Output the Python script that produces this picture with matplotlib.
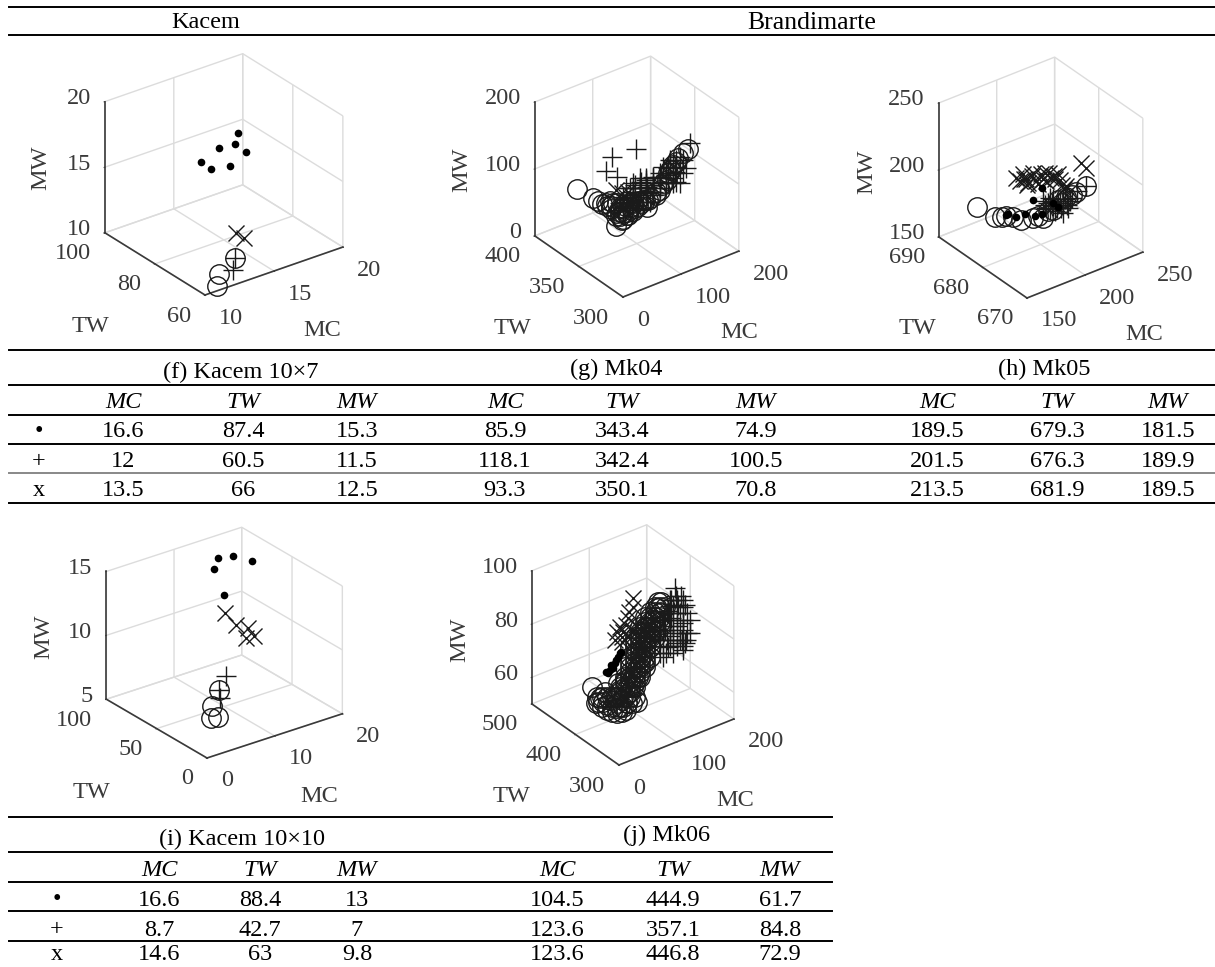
import matplotlib
matplotlib.use('Agg')
import matplotlib.pyplot as plt
from matplotlib.lines import Line2D
from mpl_toolkits.mplot3d import proj3d

plt.rcParams['font.family'] = ['Liberation Serif', 'DejaVu Serif']

W, H = 1215, 967

# Kacem 10x7
k7_dot_mc = [14.4, 14.3, 15.4, 16.3, 17.3, 18.3, 17.2]
k7_dot_tw = [85.8, 81.4, 79.6, 89.0, 88.3, 92.4, 83.4]
k7_dot_mw = [15.5, 15.5, 15.5, 15.5, 15.5, 15.5, 15.5]
k7_plus_mc = [12.7, 12.2]
k7_plus_tw = [62.7, 61.1]
k7_plus_mw = [11.5, 11.0]
k7_x_mc = [13.6, 13.6]
k7_x_tw = [67.5, 64.3]
k7_x_mw = [12.5, 12.5]
k7_o_mc = [12.7, 11.4, 11.0]
k7_o_tw = [62.7, 62.3, 60.9]
k7_o_mw = [11.5, 10.8, 10.2]

# Kacem 10x10
k10_dot_mc = [14.8, 16.6, 17.6, 12.7, 14.6]
k10_dot_tw = [88.9, 85.4, 73.3, 78.0, 81.0]
k10_dot_mw = [14.0, 14.0, 14.0, 14.0, 11.5]
k10_plus_mc = [10.9, 8.0, 6.8]
k10_plus_tw = [54.2, 41.4, 32.4]
k10_plus_mw = [7.0, 7.0, 7.0]
k10_x_mc = [15.3, 14.4, 15.1, 13.3, 14.4]
k10_x_tw = [85.4, 68.4, 60.5, 50.4, 49.7]
k10_x_mw = [9.8, 9.8, 9.8, 9.8, 9.8]
k10_o_mc = [8.0, 6.8, 4.8, 5.6]
k10_o_tw = [41.4, 40.7, 28.0, 26.6]
k10_o_mw = [7.0, 6.0, 6.0, 6.0]

# Mk04
mk4_o_mc = [57.0, 59.7, 60.4, 61.5, 62.8, 63.1, 63.2, 60.5, 59.9, 72.2, 90.2, 105.5, 122.5, 140.3, 160.8, 182.0,
            158.0, 174.1, 187.4, 199.3, 73.2, 138.3, 75.8, 89.1, 104.3, 77.3, 78.1, 73.2, 68.4, 114.3, 189.2, 166.9,
            74.2, 73.7, 81.8, 92.6, 70.5, 83.1, 96.5, 112.6, 118.1, 134.1, 146.7, 156.5, 170.0, 191.2, 57.1, 56.8,
            67.1, 66.9, 96.3, 69.5]
mk4_o_tw = [389.5, 373.7, 367.9, 363.7, 359.9, 354.5, 348.8, 343.3, 339.2, 341.6, 345.8, 348.3, 350.0, 354.2, 360.2, 368.6,
            347.0, 351.9, 355.1, 357.2, 356.5, 363.1, 345.7, 348.9, 351.4, 350.7, 358.6, 363.1, 348.4, 350.4, 371.3, 349.0,
            360.0, 352.0, 351.7, 353.1, 342.3, 343.0, 346.2, 351.0, 348.9, 351.0, 354.6, 358.1, 361.2, 370.6, 339.1, 344.7,
            357.2, 362.7, 351.7, 345.4]
mk4_o_mw = [60, 60, 60, 60, 60, 60, 60, 60, 60, 60, 60, 60, 60, 60, 60, 60,
            100, 100, 100, 100, 30, 30, 60, 60, 60, 60, 60, 60, 60, 60, 60, 100,
            60, 60, 60, 60, 60, 60, 60, 60, 60, 60, 60, 60, 60, 60, 60, 60,
            60, 60, 60, 60]
mk4_plus_mc = [142.7, 104.3, 74.7, 78.5, 190.0, 167.5, 155.8, 73.7, 84.4, 71.9, 96.9, 84.6, 105.1, 94.5, 117.5, 104.4,
               124.9, 114.5, 134.9, 126.1, 149.2, 135.3, 160.7, 147.3, 178.5, 53.0, 46.3, 58.8, 31.9, 71.3, 39.3, 56.4,
               84.1, 93.8, 38.9,
               100.3, 107.7, 115.0, 122.3, 129.7, 137.0, 85.0, 92.3, 99.7, 114.3, 121.7, 129.0, 136.4,
               69.7, 77.1, 84.4, 91.8, 99.1, 106.4, 59.2, 66.6, 73.9, 81.3, 88.6, 45.0, 52.3, 59.7, 67.0, 74.3,
               34.5, 41.8, 49.2, 130.1, 137.5, 144.8, 144.4, 151.8, 159.1, 162.3, 169.6, 177.0]
mk4_plus_tw = [378.5, 380.9, 368.5, 357.8, 349.2, 338.1, 334.2, 340.6, 341.9, 335.6, 342.7, 336.5, 342.4, 335.4, 343.1, 334.4,
               340.3, 333.4, 339.3, 331.7, 339.3, 328.2, 348.8, 345.7, 352.9, 334.6, 326.3, 327.0, 320.8, 327.7, 318.0, 319.8,
               328.5, 327.4, 329.0,
               346.9, 344.2, 341.4, 338.6, 335.9, 333.1, 344.4, 341.6, 338.9, 333.3, 330.6, 327.8, 325.0,
               341.9, 339.2, 336.4, 333.7, 330.9, 328.1, 335.0, 332.3, 329.5, 326.8, 324.0, 329.4, 326.7, 323.9, 321.1, 318.4,
               322.4, 319.7, 316.9, 343.8, 341.1, 338.3, 349.4, 346.6, 343.8, 353.6, 350.8, 348.1]
mk4_plus_mw = [100, 100, 100, 100, 120, 100, 100, 100, 100, 100, 100, 100, 100, 100, 100, 100,
               100, 100, 100, 100, 100, 100, 100, 100, 100, 100, 100, 100, 100, 100, 100, 100,
               100, 100, 100,
               100, 100, 100, 100, 100, 100, 100, 100, 100, 100, 100, 100, 100,
               100, 100, 100, 100, 100, 100, 100, 100, 100, 100, 100, 100, 100, 100, 100, 100,
               100, 100, 100, 100, 100, 100, 100, 100, 100, 100, 100, 100]
mk4_x_mc = [88.0, 88.3, 98.0]
mk4_x_tw = [365.2, 359.6, 358.6]
mk4_x_mw = [70, 70, 70]

# Mk05
mk5_o_mc = [173.6, 175.6, 179.8, 185.3, 187.4, 195.5, 200.9, 213.0, 223.7, 230.9, 240.3, 249.4, 199.5, 182.7, 222.9, 209.0, 234.9]
mk5_o_tw = [687.5, 683.9, 683.4, 682.4, 681.2, 680.6, 679.8, 680.6, 682.3, 682.3, 682.5, 682.8, 680.5, 683.3, 681.3, 680.7, 682.2]
mk5_o_mw = [170, 170, 170, 170, 170, 170, 170, 170, 170, 170, 170, 170, 170, 170, 170, 170, 170]
mk5_x_mc = [196.3, 203.4, 199.5, 206.6, 205.4, 213.5, 210.9, 219.3, 216.8, 222.6, 216.5, 197.2, 200.3, 210.2, 210.3, 216.3,
            244.6, 242.9, 214.3, 201.1, 197.3, 203.7, 216.6, 218.6, 219.5, 217.9, 215.8]
mk5_x_tw = [683.8, 684.9, 682.8, 683.8, 682.4, 683.4, 681.6, 683.1, 681.3, 682.0, 679.6, 684.8, 683.8, 684.5, 682.3, 681.9,
            682.5, 681.1, 678.4, 683.7, 682.5, 681.6, 683.4, 682.0, 680.8, 678.9, 677.5]
mk5_x_mw = [190, 190, 190, 190, 190, 190, 190, 190, 190, 190, 190, 190, 190, 190, 190, 190,
            190, 190, 190, 190, 190, 190, 190, 190, 190, 190, 190]
mk5_plus_mc = [194.7, 200.0, 200.2, 194.7, 198.0, 203.4, 206.4, 207.9, 199.5, 193.2, 195.3, 228.5, 219.5, 195.0,
               191.5, 196.4, 191.7, 202.3, 201.6, 211.4, 189.7, 202.9, 190.2]
mk5_plus_tw = [676.9, 677.2, 676.1, 675.8, 674.8, 675.0, 676.3, 675.4, 677.8, 677.7, 675.2, 677.3, 677.0, 673.6,
               676.8, 676.6, 674.6, 676.3, 674.2, 676.0, 676.1, 675.7, 675.4]
mk5_plus_mw = [190, 190, 190, 190, 190, 190, 190, 190, 190, 190, 190, 190, 190, 190,
               190, 190, 190, 190, 190, 190, 190, 190, 190]
mk5_dot_mc = [174.5, 176.5, 183.5, 187.6, 193.0, 198.8, 213.2, 207.7, 207.8, 172.9]
mk5_dot_tw = [680.7, 679.5, 679.3, 678.1, 677.8, 681.5, 683.3, 679.2, 678.1, 680.7]
mk5_dot_mw = [180, 180, 180, 180, 180, 180, 180, 180, 180, 180]

# Mk06
mk6_o_mc = [72.4, 63.3, 61.6, 56.1, 60.1, 51.9, 63.0, 66.0, 72.2, 98.6, 91.6, 112.9, 134.2, 155.6, 175.1, 194.6,
            151.0, 170.6, 190.1, 163.8, 179.1, 175.3,
            42.3, 56.5, 77.8, 104.4, 133.0, 159.5, 186.1, 76.4, 97.8, 124.5, 158.1, 191.9, 60.5, 109.9, 131.2, 165.1, 181.2,
            141.0, 158.9, 75.9, 71.6, 107.2, 84.9,
            40.5, 51.5, 57.0, 62.5, 61.8, 67.3, 72.8, 78.3, 83.1, 88.6, 94.1, 99.6, 98.9, 115.4, 120.9,
            120.2, 125.7, 136.7, 142.2, 141.5, 147.0, 152.5, 158.0, 136.0, 157.3, 162.8, 168.3, 173.8, 179.3,
            53.9, 64.9, 75.2, 80.7, 86.2, 96.5, 102.0, 107.5, 112.3, 117.8, 123.3, 128.8, 133.6, 139.1, 144.6,
            149.4, 154.9, 160.4, 165.9, 170.7, 176.2, 181.7, 187.2,
            115.6, 121.1, 126.6, 132.1, 137.6, 136.9, 142.4, 147.9, 153.4, 129.0, 134.5, 140.0, 145.5,
            150.3, 155.8, 161.3, 163.7, 169.2, 174.7,
            62.3, 67.8, 73.3, 78.8, 84.3, 51.8, 52.2, 55.1, 58.0, 66.1, 74.2, 84.8, 90.3, 73.8, 84.5, 79.4]
mk6_o_tw = [458.5, 427.4, 417.5, 421.7, 407.8, 408.4, 400.1, 392.5, 393.2, 389.6, 411.2, 427.9, 444.7, 461.4, 479.4, 497.5,
            432.3, 450.4, 468.5, 428.6, 438.6, 441.5,
            361.2, 372.5, 389.2, 412.7, 435.1, 458.7, 482.4, 368.3, 385.0, 408.7, 437.8, 467.1, 358.6, 408.5, 425.3, 454.6, 464.4,
            407.5, 415.9, 390.4, 415.4, 443.4, 394.6,
            362.9, 354.5, 350.3, 346.1, 379.5, 375.3, 371.1, 366.9, 396.1, 391.9, 387.7, 383.5, 416.9, 404.3, 400.1,
            433.5, 429.3, 420.9, 416.7, 450.1, 445.9, 441.7, 437.5, 454.3, 470.9, 466.7, 462.5, 458.3, 454.1,
            369.1, 360.7, 385.7, 381.5, 377.3, 402.3, 398.1, 393.9, 423.1, 418.9, 414.7, 410.5, 439.7, 435.5, 431.3,
            460.5, 456.3, 452.1, 447.9, 477.1, 472.9, 468.7, 464.5,
            404.2, 400.0, 395.8, 391.6, 387.4, 420.8, 416.6, 412.4, 408.2, 410.4, 406.2, 402.0, 397.8,
            427.0, 422.8, 418.6, 433.2, 429.0, 424.8,
            433.5, 429.3, 425.1, 420.9, 416.7, 420.0, 397.4, 389.7, 382.0, 381.3, 380.6, 394.4, 390.2, 402.8, 405.6, 436.9]
mk6_o_mw = [55, 55, 55, 55, 55, 55, 55, 55, 55, 55, 55, 55, 55, 55, 55, 55,
            70, 70, 70, 80, 80, 80,
            65, 65, 65, 65, 65, 65, 65, 65, 65, 65, 65, 65, 65, 65, 65, 65, 65,
            80, 80, 55, 55, 55, 55,
            65, 65, 65, 65, 65, 65, 65, 65, 65, 65, 65, 65, 65, 65, 65,
            65, 65, 65, 65, 65, 65, 65, 65, 65, 65, 65, 65, 65, 65,
            65, 65, 65, 65, 65, 65, 65, 65, 65, 65, 65, 65, 65, 65, 65,
            65, 65, 65, 65, 65, 65, 65, 65,
            80, 80, 80, 80, 80, 80, 80, 80, 80, 80, 80, 80, 80,
            80, 80, 80, 80, 80, 80,
            55, 55, 55, 55, 55, 55, 55, 55, 55, 55, 55, 55, 55, 55, 55, 55]
mk6_plus_mc = [194.2, 182.8, 171.4, 163.2, 160.2, 143.1, 148.1, 135.4, 136.0, 128.6, 121.2, 118.4, 109.2, 94.5, 94.0, 126.8,
               112.2, 117.2, 149.8, 188.3, 178.9, 139.7, 172.0, 131.6, 119.9,
               170.3, 177.6, 184.9, 159.7, 167.0, 174.3, 145.5, 152.8, 167.5, 131.3, 138.7, 146.0, 153.3, 160.7,
               115.4, 122.8, 137.4, 96.0, 103.3, 110.6, 118.0, 125.3, 89.1, 96.5, 103.8, 111.1, 95.9, 103.2, 110.5]
mk6_plus_tw = [428.0, 409.0, 390.4, 391.0, 371.7, 368.1, 348.0, 346.4, 324.3, 329.9, 335.5, 304.8, 311.7, 311.6, 322.5, 319.8,
               331.1, 349.3, 384.7, 404.8, 384.8, 321.5, 406.3, 349.3, 314.4,
               407.4, 401.8, 396.2, 393.6, 388.0, 382.4, 382.5, 376.9, 365.7, 371.5, 365.9, 360.3, 354.7, 349.1,
               350.7, 345.1, 333.9, 332.7, 327.1, 321.5, 315.9, 310.3, 316.0, 310.4, 304.8, 300.2, 332.8, 327.2, 321.6]
mk6_plus_mw = [85, 85, 85, 85, 85, 85, 85, 85, 85, 85, 85, 85, 85, 85, 80, 80,
               85, 85, 85, 85, 85, 85, 85, 85, 85,
               85, 85, 85, 85, 85, 85, 85, 85, 85, 85, 85, 85, 85, 85,
               85, 85, 85, 85, 85, 85, 85, 85, 85, 85, 85, 85, 80, 80, 80]
mk6_x_mc = [174.0, 148.5, 160.8, 114.5, 124.6, 124.0, 88.0, 100.6, 107.9, 103.0, 110.3, 136.9, 92.7, 135.7]
mk6_x_tw = [497.3, 472.6, 479.8, 449.1, 447.1, 431.1, 425.4, 426.7, 421.2, 441.4, 435.9, 459.7, 416.3, 438.7]
mk6_x_mw = [75, 75, 75, 75, 75, 75, 75, 75, 75, 75, 75, 75, 75, 75]
mk6_dot_mc = [91.7, 98.0, 107.8, 104.4, 121.3, 128.2, 135.5, 139.9, 91.0, 114.2]
mk6_dot_tw = [449.6, 450.3, 459.4, 451.2, 465.6, 471.2, 476.9, 478.7, 444.8, 460.1]
mk6_dot_mw = [60, 60, 60, 60, 60, 60, 60, 60, 60, 60]

# table values, rows are dot, plus, x
col_names = ['MC', 'TW', 'MW']
row_names = ['•', '+', 'x']
k7_table = [['16.6', '87.4', '15.3'], ['12', '60.5', '11.5'], ['13.5', '66', '12.5']]
mk4_table = [['85.9', '343.4', '74.9'], ['118.1', '342.4', '100.5'], ['93.3', '350.1', '70.8']]
mk5_table = [['189.5', '679.3', '181.5'], ['201.5', '676.3', '189.9'], ['213.5', '681.9', '189.5']]
k10_table = [['16.6', '88.4', '13'], ['8.7', '42.7', '7'], ['14.6', '63', '9.8']]
mk6_table = [['104.5', '444.9', '61.7'], ['123.6', '357.1', '84.8'], ['123.6', '446.8', '72.9']]

fig = plt.figure(figsize=(W / 100, H / 100), dpi=100)
INK = '#3a3a3a'


def page_text(x, y, s, **kw):
    kw.setdefault('ha', 'center')
    kw.setdefault('va', 'center')
    kw.setdefault('fontsize', 17.5)
    # +2: va center sits a bit high for digits
    fig.text(x / W, 1 - (y + 2) / H, s, **kw)


def hline(y, x0, x1, color='black'):
    fig.add_artist(Line2D([x0 / W, x1 / W], [1 - y / H, 1 - y / H], color=color, lw=1.4,
                          transform=fig.transFigure))


def to_px(ax, x, y, z):
    px, py, _ = proj3d.proj_transform(x, y, z, ax.get_proj())
    return ax.transData.transform((px, py))


def draw_panel(origin, span, view, box, lims, ticks, series, label_pos):
    xlim, ylim, zlim = lims
    ax = fig.add_axes([0.1, 0.1, 300 / W, 300 / H], projection='3d', proj_type='ortho')
    ax.patch.set_visible(False)
    ax.view_init(elev=view[0], azim=view[1])
    ax.set_box_aspect(box)
    ax.set_xlim(*xlim, view_margin=0)
    ax.set_ylim(*ylim, view_margin=0)
    ax.set_zlim(*zlim, view_margin=0)
    ax.set_xticks(ticks[0])
    ax.set_yticks(ticks[1])
    ax.set_zticks(ticks[2])
    ax.xaxis.set_ticklabels([])
    ax.yaxis.set_ticklabels([])
    ax.zaxis.set_ticklabels([])

    for axis in (ax.xaxis, ax.yaxis, ax.zaxis):
        axis.set_pane_color((1, 1, 1, 0))
        axis.pane.set_edgecolor('#d4d4d4')
        axis.line.set_color(INK)
        axis.line.set_linewidth(1.2)
        axis._axinfo['grid'].update(color='#dcdcdc', linewidth=1.0)
        axis._axinfo['tick'].update(inward_factor=0.06, outward_factor=0.0)
    ax.tick_params(color=INK, width=1)
    ax.zaxis.set_ticks_position('upper')

    for mc, tw, mw, style in series:
        ax.plot(mc, tw, mw, linestyle='none', **style)

    # scale the square axes so the box spans the wanted pixels, then move it over the origin
    a = to_px(ax, xlim[1], ylim[0], zlim[0])
    b = to_px(ax, xlim[0], ylim[1], zlim[0])
    side = 300 * span / (a[0] - b[0])
    ax.set_position([0.1, 0.1, side / W, side / H])
    o = to_px(ax, xlim[0], ylim[0], zlim[0])
    tx = origin[0] - o[0]
    ty = (H - origin[1]) - o[1]
    ax.set_position([0.1 + tx / W, 0.1 + ty / H, side / W, side / H])

    for t in ticks[0]:
        p = to_px(ax, t, ylim[0], zlim[0])
        page_text(p[0] + 14, H - p[1] + 21, str(t), ha='left', color=INK)
    for t in ticks[1]:
        p = to_px(ax, xlim[0], t, zlim[0])
        page_text(p[0] - 14, H - p[1] + 19, str(t), ha='right', color=INK)
    for t in ticks[2]:
        p = to_px(ax, xlim[0], ylim[1], t)
        page_text(p[0] - 14, H - p[1] - 5, str(t), ha='right', color=INK)

    page_text(*label_pos[0], 'MC', color=INK)
    page_text(*label_pos[1], 'TW', color=INK)
    page_text(*label_pos[2], 'MW', color=INK, rotation=90)
    return ax


dot = dict(marker='o', markersize=5.5, color='black', markeredgewidth=0)
plus = dict(marker='+', markersize=14, color='#1a1a1a', markeredgewidth=1.0)
cross = dict(marker='x', markersize=11, color='#1a1a1a', markeredgewidth=1.0)
ring = dict(marker='o', markersize=14, markerfacecolor='none', markeredgecolor='#1a1a1a', markeredgewidth=1.0)

draw_panel((205, 295), 238, (27.7, -126.8), (172, 167, 148),
           ((10, 20), (60, 100), (10, 20)), ([10, 15, 20], [60, 80, 100], [10, 15, 20]),
           [(k7_o_mc, k7_o_tw, k7_o_mw, ring), (k7_plus_mc, k7_plus_tw, k7_plus_mw, plus),
            (k7_x_mc, k7_x_tw, k7_x_mw, cross), (k7_dot_mc, k7_dot_tw, k7_dot_mw, dot)],
           [(322, 329), (90, 325), (41, 166)])

draw_panel((623, 297), 204, (31.6, -127.1), (145, 146, 157),
           ((0, 200), (300, 400), (0, 200)), ([0, 100, 200], [300, 350, 400], [0, 100, 200]),
           [(mk4_o_mc, mk4_o_tw, mk4_o_mw, ring), (mk4_plus_mc, mk4_plus_tw, mk4_plus_mw, plus),
            (mk4_x_mc, mk4_x_tw, mk4_x_mw, cross)],
           [(739, 331), (512, 326), (462, 168)])

draw_panel((1027, 298), 204, (31.6, -127.1), (145, 146, 157),
           ((150, 250), (670, 690), (150, 250)), ([150, 200, 250], [670, 680, 690], [150, 200, 250]),
           [(mk5_o_mc, mk5_o_tw, mk5_o_mw, ring), (mk5_plus_mc, mk5_plus_tw, mk5_plus_mw, plus),
            (mk5_x_mc, mk5_x_tw, mk5_x_mw, cross), (mk5_dot_mc, mk5_dot_tw, mk5_dot_mw, dot)],
           [(1144, 332), (917, 327), (867, 170)])

draw_panel((207, 758), 236, (25.9, -126.8), (169, 168, 142),
           ((0, 20), (0, 100), (5, 15)), ([0, 10, 20], [0, 50, 100], [5, 10, 15]),
           [(k10_o_mc, k10_o_tw, k10_o_mw, ring), (k10_plus_mc, k10_plus_tw, k10_plus_mw, plus),
            (k10_x_mc, k10_x_tw, k10_x_mw, cross), (k10_dot_mc, k10_dot_tw, k10_dot_mw, dot)],
           [(319, 794), (91, 791), (44, 635)])

draw_panel((619, 765), 202, (32, -127.1), (144, 144.5, 157),
           ((0, 200), (300, 500), (50, 100)), ([0, 100, 200], [300, 400, 500], [60, 80, 100]),
           [(mk6_o_mc, mk6_o_tw, mk6_o_mw, ring), (mk6_plus_mc, mk6_plus_tw, mk6_plus_mw, plus),
            (mk6_x_mc, mk6_x_tw, mk6_x_mw, cross), (mk6_dot_mc, mk6_dot_tw, mk6_dot_mw, dot)],
           [(735, 798), (511, 794), (460, 638)])

# top header
hline(7, 9, 1215)
hline(35, 9, 1215)
page_text(206, 21, 'Kacem')
page_text(812, 21, 'Brandimarte', fontsize=18.5)

# first table
hline(350, 9, 1215)
hline(385, 9, 1215)
hline(415, 9, 1215)
hline(444, 9, 1215)
hline(473, 9, 1215, color='#888888')
hline(503, 9, 1215)
page_text(241, 370, '(f) Kacem 10×7')
page_text(616, 367, '(g) Mk04')
page_text(1044, 367, '(h) Mk05')
for table, xs in ((k7_table, (123, 243, 357)), (mk4_table, (505, 622, 756)), (mk5_table, (937, 1057, 1168))):
    for x, name in zip(xs, col_names):
        page_text(x, 401, name, style='italic')
    for y, row in zip((430, 460, 489), table):
        for x, val in zip(xs, row):
            page_text(x, y, val)
for y, name in zip((430, 460, 489), row_names):
    page_text(39, y, name)

# second table
hline(817, 9, 832)
hline(852, 9, 832)
hline(882, 9, 832)
hline(911, 9, 832)
hline(941, 9, 832)
page_text(242, 837, '(i) Kacem 10×10')
page_text(667, 833, '(j) Mk06')
for table, xs in ((k10_table, (159, 260, 357)), (mk6_table, (557, 673, 780))):
    for x, name in zip(xs, col_names):
        page_text(x, 868, name, style='italic')
    for y, row in zip((898, 928, 953), table):
        for x, val in zip(xs, row):
            page_text(x, y, val)
for y, name in zip((898, 928, 953), row_names):
    page_text(57, y, name)

fig.savefig('out.png', dpi=100, facecolor='white')
